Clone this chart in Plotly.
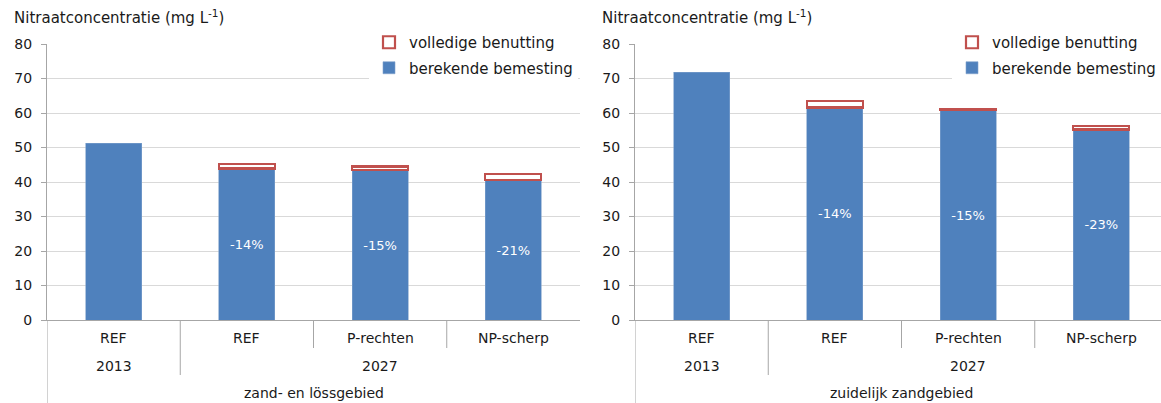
import plotly.graph_objects as go

# ---- data ----
scenarios = ["REF", "REF", "P-rechten", "NP-scherp"]
years = ["2013", "2027"]
year_spans = [[0], [1, 2, 3]]
regions = ["zand- en lössgebied", "zuidelijk zandgebied"]

left_berekend = [51.2, 43.9, 43.4, 40.5]
left_volledig = [None, 1.3, 1.1, 1.8]
left_pct = [None, "-14%", "-15%", "-21%"]

right_berekend = [71.8, 61.6, 60.8, 55.2]
right_volledig = [None, 1.8, 0.3, 1.0]
right_pct = [None, "-14%", "-15%", "-23%"]

y_ticks = [0, 10, 20, 30, 40, 50, 60, 70, 80]
y_title = "Nitraatconcentratie (mg L<sup>-1</sup>)"
series_names = ["berekende bemesting", "volledige benutting"]

BLUE = "#4F81BD"
RED = "#C0504D"
GRID = "#D9D9D9"
AXIS = "#A6A6A6"
TXT = "#1a1a1a"
FONT = "DejaVu Sans"

W, H = 1161, 403
def py(pix):  # pixel row -> paper y
    return (H - pix) / H

fig = go.Figure()
xs = list(range(len(scenarios)))

# panel geometry (pixels): left axis 47..580, right axis starts at 635 and is cropped at the page edge
CAT_W = (580 - 47) / 4.0
right_end = -0.5 + (W - 635) / CAT_W

panels = [
    dict(b=left_berekend, v=left_volledig, pct=left_pct, xa="x", ya="y", lg="legend",
         region=regions[0], title_x=12),
    dict(b=right_berekend, v=right_volledig, pct=right_pct, xa="x2", ya="y2", lg="legend2",
         region=regions[1], title_x=600),
]

for p in panels:
    fig.add_trace(go.Bar(
        x=xs, y=p["b"], name=series_names[0], xaxis=p["xa"], yaxis=p["ya"],
        marker=dict(color=BLUE, line=dict(color="#7FA1CC", width=0.6)),
        text=p["pct"], textposition="inside", insidetextanchor="middle",
        textangle=0, constraintext="none",
        textfont=dict(color="white", size=13, family=FONT),
        legend=p["lg"], legendgroup="b", legendrank=2, hoverinfo="skip",
    ))
    fig.add_trace(go.Bar(
        x=xs, y=p["v"], name=series_names[1], xaxis=p["xa"], yaxis=p["ya"],
        marker=dict(color="white", line=dict(color=RED, width=2.2)),
        legend=p["lg"], legendgroup="v", legendrank=1, hoverinfo="skip",
    ))

dom_left = [47 / W, 580 / W]
dom_right = [635 / W, 1.0]
ydom = [py(320), py(44)]

xcommon = dict(showgrid=False, zeroline=False, showticklabels=False,
               ticks="", showline=True, linecolor=AXIS, linewidth=1, fixedrange=True,
               automargin=False)
ycommon = dict(range=[0, 80], tickvals=y_ticks, showgrid=True, gridcolor=GRID, gridwidth=1,
               zeroline=False, showline=True, linecolor=AXIS, linewidth=1,
               ticks="outside", ticklen=5, tickcolor=AXIS, ticklabelstandoff=6,
               tickfont=dict(size=14, family=FONT, color=TXT), domain=ydom, fixedrange=True,
               automargin=False)

legend_common = dict(
    yanchor="top", xanchor="right", y=py(26), bgcolor="white",
    font=dict(size=15, family=FONT, color=TXT),
    traceorder="grouped", tracegroupgap=3, itemwidth=30,
)

fig.update_layout(
    width=W, height=H,
    margin=dict(l=0, r=0, t=0, b=0, pad=0, autoexpand=False),
    paper_bgcolor="white", plot_bgcolor="white",
    barmode="stack", bargap=0.58,
    showlegend=True,
    xaxis=dict(domain=dom_left, anchor="y", range=[-0.5, 3.5], **xcommon),
    yaxis=dict(anchor="x", **ycommon),
    xaxis2=dict(domain=dom_right, anchor="y2", range=[-0.5, right_end], **xcommon),
    yaxis2=dict(anchor="x2", **ycommon),
    legend=dict(x=578 / W, **legend_common),
    legend2=dict(x=1.0, **legend_common),
    font=dict(family=FONT, color=TXT),
)

shapes = []
annotations = []
for p in panels:
    xa = p["xa"]
    # y axis line extended below the plot
    shapes.append(dict(type="line", xref=xa, yref="paper", x0=-0.5, x1=-0.5,
                       y0=0, y1=py(320), line=dict(color=AXIS, width=1)))
    # separator between years
    shapes.append(dict(type="line", xref=xa, yref="paper", x0=0.5, x1=0.5,
                       y0=py(375), y1=py(320), line=dict(color=AXIS, width=1)))
    # separators between scenarios within 2027
    for sx in [1.5, 2.5]:
        shapes.append(dict(type="line", xref=xa, yref="paper", x0=sx, x1=sx,
                           y0=py(348), y1=py(320), line=dict(color=AXIS, width=1)))
    # scenario labels
    for i, s in enumerate(scenarios):
        annotations.append(dict(text=s, xref=xa, yref="paper", x=i, y=py(338),
                                showarrow=False, xanchor="center", yanchor="middle",
                                font=dict(size=14, family=FONT, color=TXT)))
    # year labels
    for yr, span in zip(years, year_spans):
        annotations.append(dict(text=yr, xref=xa, yref="paper",
                                x=(span[0] + span[-1]) / 2, y=py(366),
                                showarrow=False, xanchor="center", yanchor="middle",
                                font=dict(size=14, family=FONT, color=TXT)))
    # region label
    annotations.append(dict(text=p["region"], xref=xa, yref="paper", x=1.5, y=py(393),
                            showarrow=False, xanchor="center", yanchor="middle",
                            font=dict(size=14, family=FONT, color=TXT)))
    # y title
    annotations.append(dict(text=y_title, xref="paper", yref="paper", x=p["title_x"] / W,
                            y=py(17), showarrow=False, xanchor="left", yanchor="middle",
                            font=dict(size=15, family=FONT, color=TXT)))

fig.update_layout(shapes=shapes, annotations=annotations)
fig.write_html(
    "out.html",
    config={"displayModeBar": False},
    post_script="document.body.style.margin='0';document.body.style.padding='0';",
)
